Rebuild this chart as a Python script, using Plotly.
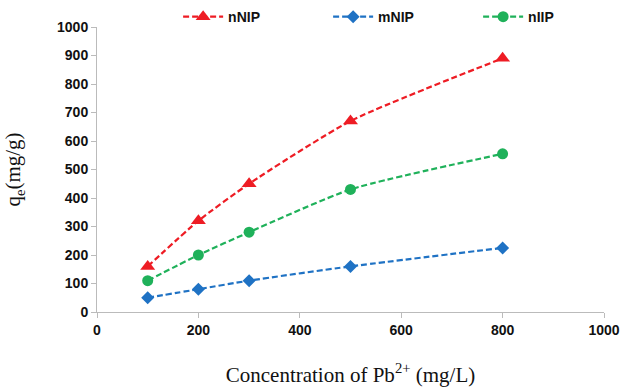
import plotly.graph_objects as go

conc = [100, 200, 300, 500, 800]
nNIP = [160, 320, 450, 670, 890]
mNIP = [50, 80, 110, 160, 225]
nIIP = [110, 200, 280, 430, 555]
x_ticks = [0, 200, 400, 600, 800, 1000]
y_ticks = [0, 100, 200, 300, 400, 500, 600, 700, 800, 900, 1000]

series = [
    ("nNIP", nNIP, "#ee1c24", "triangle-up", 13),
    ("mNIP", mNIP, "#1f72c4", "diamond", 10),
    ("nIIP", nIIP, "#1fb15a", "circle", 11),
]

fig = go.Figure()
for name, vals, col, sym, sz in series:
    fig.add_trace(go.Scatter(
        x=conc, y=vals, name=name, mode="lines+markers",
        line=dict(color=col, width=2.2, dash="6px,3px", shape="spline", smoothing=0.6),
        marker=dict(color=col, symbol=sym, size=sz),
    ))

axis_font = dict(family="Liberation Sans, Arial", size=14, color="#111", weight="bold")
fig.update_layout(
    width=631, height=388,
    margin=dict(l=97, r=27, t=27, b=76, autoexpand=False),
    paper_bgcolor="white", plot_bgcolor="white",
    showlegend=True,
    legend=dict(orientation="h", x=0.16, y=1.035, xanchor="left", yanchor="middle",
                font=dict(family="Liberation Sans, Arial", size=14, color="#111", weight="bold"),
                entrywidth=95, entrywidthmode="pixels", itemwidth=40,
                bgcolor="rgba(0,0,0,0)"),
    xaxis=dict(range=[0, 1000], tickvals=x_ticks,
               showgrid=False, zeroline=False, showline=True, linecolor="#bbbbbb", linewidth=1,
               ticks="outside", ticklen=5, tickcolor="#bbbbbb", tickfont=axis_font,
               title=dict(text="Concentration of Pb<sup>2+</sup> (mg/L)",
                          font=dict(family="Liberation Serif, Times New Roman", size=21, color="#111"),
                          standoff=30)),
    yaxis=dict(range=[0, 1000], tickvals=y_ticks,
               showgrid=False, zeroline=False, showline=True, linecolor="#bbbbbb", linewidth=1,
               ticks="outside", ticklen=5, tickcolor="#bbbbbb", tickfont=axis_font,
               title=dict(text="q<sub>e</sub>(mg/g)",
                          font=dict(family="Liberation Serif, Times New Roman", size=21, color="#111"),
                          standoff=30)),
)

fig.write_html("out.html")
